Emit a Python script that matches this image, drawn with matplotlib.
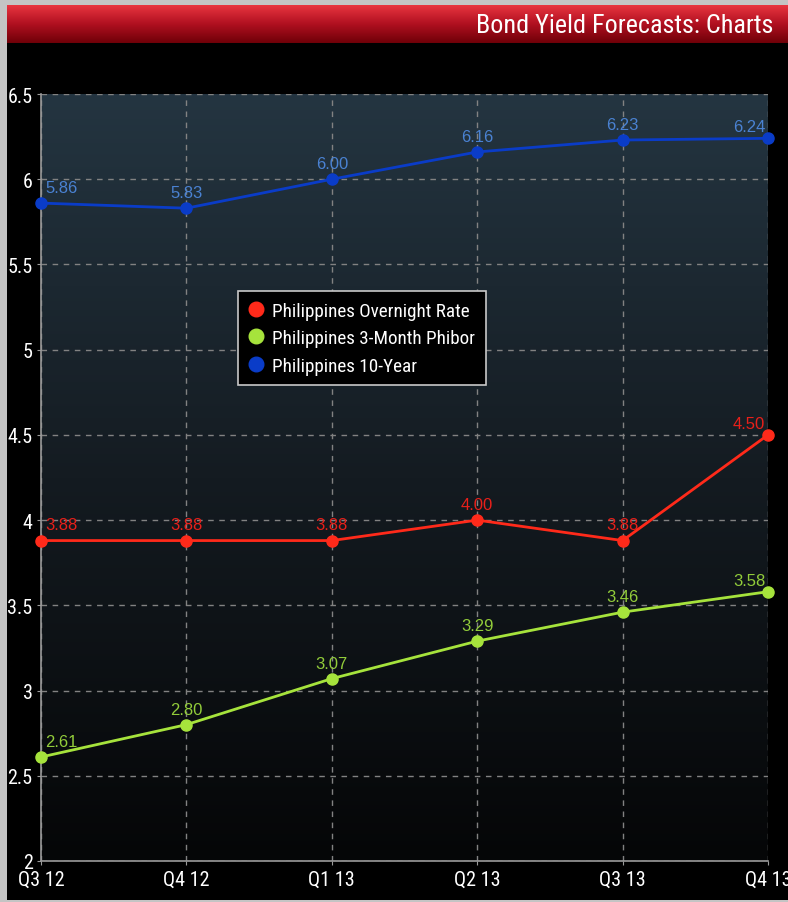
import numpy as np
import matplotlib
matplotlib.use('Agg')
import matplotlib.pyplot as plt
from matplotlib import font_manager
from matplotlib.colors import LinearSegmentedColormap
from matplotlib.lines import Line2D
from matplotlib.patches import Rectangle

quarters = ['Q3 12', 'Q4 12', 'Q1 13', 'Q2 13', 'Q3 13', 'Q4 13']
overnight_rate = [3.88, 3.88, 3.88, 4.00, 3.88, 4.50]
phibor_3m = [2.61, 2.80, 3.07, 3.29, 3.46, 3.58]
bond_10y = [5.86, 5.83, 6.00, 6.16, 6.23, 6.24]

series = [
    ('Philippines Overnight Rate', overnight_rate, '#ff2a1a', '#e8201a'),
    ('Philippines 3-Month Phibor', phibor_3m, '#a6e33c', '#92cc3a'),
    ('Philippines 10-Year', bond_10y, '#0a3cc8', '#4a82d2'),
]

W, H = 788, 903


def pick_font(names):
    installed = {f.name for f in font_manager.fontManager.ttflist}
    for n in names:
        if n in installed:
            return n
    return 'DejaVu Sans'


narrow = pick_font(['Liberation Sans Narrow', 'DejaVu Sans Condensed', 'Roboto Condensed', 'Liberation Sans'])
plain = pick_font(['Liberation Sans', 'Arial', 'DejaVu Sans'])

fig = plt.figure(figsize=(W / 100, H / 100), dpi=100, facecolor='black')

# grey frame around the panel
for x0, y0, w, h in [(0, 0, 7, H), (0, H - 6, W, 6), (0, 0, W, 2)]:
    fig.patches.append(Rectangle((x0 / W, y0 / H), w / W, h / H, transform=fig.transFigure,
                                 facecolor='#c4c4c4', edgecolor='none', zorder=5))

# red title bar
tb = fig.add_axes([7 / W, 1 - 44 / H, (W - 7) / W, 38 / H])
red_cmap = LinearSegmentedColormap.from_list('bar', ['#e8343f', '#b01020', '#700008'])
tb.imshow(np.linspace(0, 1, 64).reshape(-1, 1), cmap=red_cmap, aspect='auto', extent=[0, 1, 0, 1])
tb.set_axis_off()
tb.text(0.981, 0.47, 'Bond Yield Forecasts: Charts', transform=tb.transAxes, ha='right', va='center',
        color='white', fontsize=18.8, family=narrow)

# main chart
ax = fig.add_axes([41 / W, 1 - 862 / H, (768 - 41) / W, (862 - 95) / H])
ax.set_facecolor('black')
bg_cmap = LinearSegmentedColormap.from_list('bg', ['#050607', '#141b21', '#243541'])
ax.imshow(np.linspace(0, 1, 256).reshape(-1, 1), cmap=bg_cmap, aspect='auto',
          extent=[0, 1, 0, 1], transform=ax.transAxes, origin='lower', zorder=-2)

x = np.arange(len(quarters))
for name, vals, col, lcol in series:
    ax.plot(x, vals, color=col, lw=2, marker='o', markersize=8, clip_on=False, zorder=3)
    for i, v in enumerate(vals):
        if i == 0:
            ha, dx, dy = 'left', 3, 8
        elif i == len(vals) - 1:
            ha, dx, dy = 'right', -2, 5
        else:
            ha, dx, dy = 'center', 0, 8
        ax.annotate(f'{v:.2f}', (i, v), xytext=(dx, dy), textcoords='offset points',
                    ha=ha, va='baseline', color=lcol, fontsize=12, family=plain, zorder=4)

ax.set_xlim(0, len(quarters) - 1)
ax.set_ylim(2, 6.5)
ax.set_xticks(x)
ax.set_xticklabels(quarters)
ax.set_yticks([2, 2.5, 3, 3.5, 4, 4.5, 5, 5.5, 6, 6.5])
ax.set_yticklabels(['2', '2.5', '3', '3.5', '4', '4.5', '5', '5.5', '6', '6.5'])
ax.grid(True, color='#828282', linestyle=(0, (4, 4)), linewidth=1)
ax.set_axisbelow(True)
for s in ['top', 'right']:
    ax.spines[s].set_visible(False)
for s in ['left', 'bottom']:
    ax.spines[s].set_color('#9a9a9a')
    ax.spines[s].set_linewidth(1.2)
ax.tick_params(colors='#9a9a9a', length=3, labelcolor='white', labelsize=14.5, pad=3)
for lbl in ax.get_xticklabels() + ax.get_yticklabels():
    lbl.set_family(narrow)

handles = [Line2D([], [], linestyle='none', marker='o', markersize=10.5, color=col,
                  label=name) for name, _, col, _ in series]
leg = ax.legend(handles=handles, loc='upper left', bbox_to_anchor=(238 / W, 1 - 292 / H),
                bbox_transform=fig.transFigure, borderaxespad=0, fancybox=False, framealpha=1,
                facecolor='black', edgecolor='#c8c8c8', labelcolor='white', handlelength=0.8,
                handletextpad=0.45, labelspacing=0.5, borderpad=0.55,
                prop={'family': narrow, 'size': 13.8})
leg.get_frame().set_linewidth(1.2)

fig.savefig('out.png', dpi=100, facecolor=fig.get_facecolor())
